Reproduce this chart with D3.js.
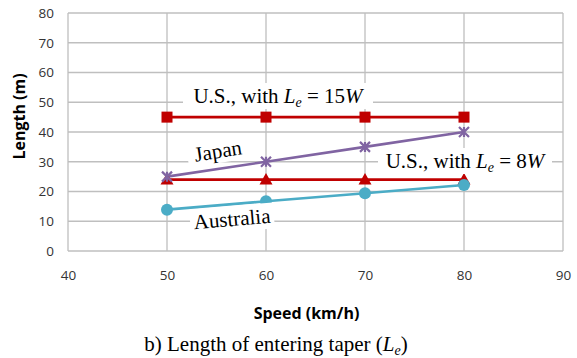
<!DOCTYPE html>
<html><head><meta charset="utf-8">
<script src="https://cdn.jsdelivr.net/npm/d3@7/dist/d3.min.js"></script>
<style>body{margin:0;background:#fff;}svg{display:block;}</style>
</head><body>
<svg id="c" width="577" height="358"></svg>
<script>
const speeds = [50, 60, 70, 80];
const us15W = [45, 45, 45, 45];
const japan = [25, 30, 35, 40];
const us8W = [24, 24, 24, 24];
const australia = [13.9, 16.7, 19.4, 22.2];
const xTicks = [40, 50, 60, 70, 80, 90];
const yTicks = [0, 10, 20, 30, 40, 50, 60, 70, 80];

const svg = d3.select("#c");
const L = 68, R = 563, T = 13, B = 251;
const x = d3.scaleLinear().domain([40, 90]).range([L, R]);
const y = d3.scaleLinear().domain([0, 80]).range([B, T]);
const grid = "#BFBFBF";

// gridlines
svg.append("g").selectAll("line").data(yTicks).join("line")
  .attr("x1", L).attr("x2", R).attr("y1", d => y(d)).attr("y2", d => y(d))
  .attr("stroke", grid).attr("stroke-width", 1.3);
svg.append("g").selectAll("line").data(xTicks).join("line")
  .attr("y1", T).attr("y2", B).attr("x1", d => x(d)).attr("x2", d => x(d))
  .attr("stroke", grid).attr("stroke-width", 1.3);

// axes labels
const tickFont = "'Open Sans', sans-serif";
const yAxis = d3.axisLeft(y).tickValues(yTicks).tickSize(0).tickPadding(14);
const gy = svg.append("g").attr("transform", `translate(${L},0)`).call(yAxis);
gy.select(".domain").remove();
gy.selectAll("text").attr("font-family", tickFont).attr("font-size", 13.5).attr("fill", "#333");
const xAxis = d3.axisBottom(x).tickValues(xTicks).tickSize(0).tickPadding(19);
const gx = svg.append("g").attr("transform", `translate(0,${B})`).call(xAxis);
gx.select(".domain").remove();
gx.selectAll("text").attr("font-family", tickFont).attr("font-size", 13.5).attr("fill", "#333");

svg.append("text").attr("transform", "translate(25,116.5) rotate(-90)")
  .attr("text-anchor", "middle").attr("font-family", tickFont).attr("font-weight", "bold")
  .attr("font-size", 16).attr("fill", "#000").text("Length (m)");
svg.append("text").attr("x", 306.5).attr("y", 319)
  .attr("text-anchor", "middle").attr("font-family", tickFont).attr("font-weight", "bold")
  .attr("font-size", 16).attr("fill", "#000").text("Speed (km/h)");

// series
const red = "#C00000", purple = "#8064A2", cyan = "#4BACC6";
const line = d3.line().x((d, i) => x(speeds[i])).y(d => y(d));
function drawLine(vals, color) {
  svg.append("path").datum(vals).attr("d", line).attr("fill", "none")
    .attr("stroke", color).attr("stroke-width", 2.6);
}
drawLine(us15W, red);
drawLine(us8W, red);
drawLine(australia, cyan);
drawLine(japan, purple);

// markers
svg.append("g").selectAll("rect").data(us15W).join("rect")
  .attr("x", (d, i) => x(speeds[i]) - 5.5).attr("y", d => y(d) - 5.5)
  .attr("width", 11).attr("height", 11).attr("fill", red);
svg.append("g").selectAll("path").data(us8W).join("path")
  .attr("d", (d, i) => { const cx = x(speeds[i]), cy = y(d); return `M${cx},${cy-6.5}L${cx+6.5},${cy+5}L${cx-6.5},${cy+5}Z`; })
  .attr("fill", red);
svg.append("g").selectAll("circle").data(australia).join("circle")
  .attr("cx", (d, i) => x(speeds[i])).attr("cy", d => y(d)).attr("r", 6).attr("fill", cyan);
svg.append("g").selectAll("path").data(japan).join("path")
  .attr("d", (d, i) => { const cx = x(speeds[i]), cy = y(d), s = 5; return `M${cx-s},${cy-s}L${cx+s},${cy+s}M${cx-s},${cy+s}L${cx+s},${cy-s}M${cx},${cy-s}L${cx},${cy+s}`; })
  .attr("stroke", purple).attr("stroke-width", 2.2).attr("fill", "none");

// annotations
const serif = "'Liberation Serif', 'Times New Roman', serif";
function label(cx, cy, w, h, rot, build) {
  const g = svg.append("g").attr("transform", `translate(${cx},${cy}) rotate(${rot})`);
  g.append("rect").attr("x", -w/2).attr("y", -h/2).attr("width", w).attr("height", h).attr("fill", "#fff");
  const t = g.append("text").attr("text-anchor", "middle").attr("y", 7)
    .attr("font-family", serif).attr("font-size", 21).attr("fill", "#000");
  build(t);
}
function usLabel(t, n) {
  t.append("tspan").text("U.S., with ");
  t.append("tspan").attr("font-style", "italic").text("L");
  t.append("tspan").attr("font-style", "italic").attr("font-size", 14).attr("dy", 4).text("e");
  t.append("tspan").attr("dy", -4).text(" = " + n);
  t.append("tspan").attr("font-style", "italic").text("W");
}
label(278, 96, 190, 26, 0, t => usLabel(t, "15"));
label(465, 161, 174, 26, 0, t => usLabel(t, "8"));
label(218, 151, 62, 24, -9, t => t.text("Japan"));
label(232, 219, 84, 26, -5, t => t.text("Australia"));

// caption
const cap = svg.append("text").attr("x", 276).attr("y", 351).attr("text-anchor", "middle")
  .attr("font-family", serif).attr("font-size", 21).attr("fill", "#000");
cap.append("tspan").text("b) Length of entering taper (");
cap.append("tspan").attr("font-style", "italic").text("L");
cap.append("tspan").attr("font-style", "italic").attr("font-size", 14).attr("dy", 4).text("e");
cap.append("tspan").attr("dy", -4).text(")");
</script>
</body></html>
